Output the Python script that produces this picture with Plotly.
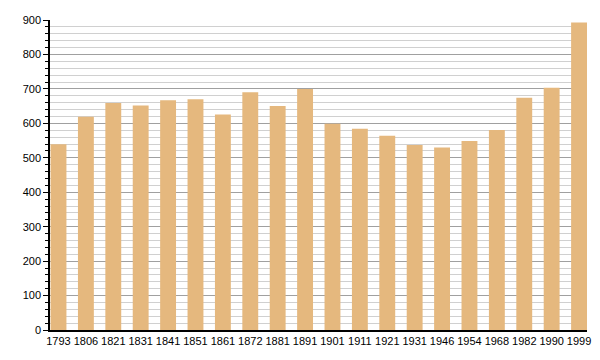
import plotly.graph_objects as go

years = ["1793", "1806", "1821", "1831", "1841", "1851", "1861", "1872", "1881", "1891",
         "1901", "1911", "1921", "1931", "1946", "1954", "1968", "1982", "1990", "1999"]
population = [539, 619, 659, 652, 667, 670, 626, 690, 650, 700,
              599, 584, 564, 537, 530, 549, 581, 674, 703, 893]

fig = go.Figure()
fig.add_trace(go.Bar(x=years, y=population, marker=dict(color="#e5b87e", line=dict(width=0))))

fig.update_layout(
    width=600, height=360,
    margin=dict(l=50, r=9, t=20, b=30),
    paper_bgcolor="white", plot_bgcolor="white",
    font=dict(family="Liberation Sans, Arial, sans-serif", size=11, color="black"),
    bargap=0.42,
    showlegend=False,
)
fig.update_xaxes(
    type="category", range=[-0.31, 19.29],
    showline=True, linecolor="black", linewidth=1.5,
    ticks="", showgrid=False, tickfont=dict(size=11),
)
fig.update_yaxes(
    range=[0, 900], dtick=100,
    showline=True, linecolor="black", linewidth=1.5,
    ticks="outside", ticklen=5, tickcolor="black", tickwidth=1,
    showgrid=True, gridcolor="#a0a0a0", gridwidth=1,
    minor=dict(dtick=20, showgrid=True, gridcolor="#d0d0d0", gridwidth=1,
               ticks="outside", ticklen=3, tickcolor="black"),
    zeroline=False, tickfont=dict(size=11),
)
fig.write_html("out.html", config={"displayModeBar": False},
               post_script="document.body.style.margin='0';document.body.style.overflow='hidden';")
